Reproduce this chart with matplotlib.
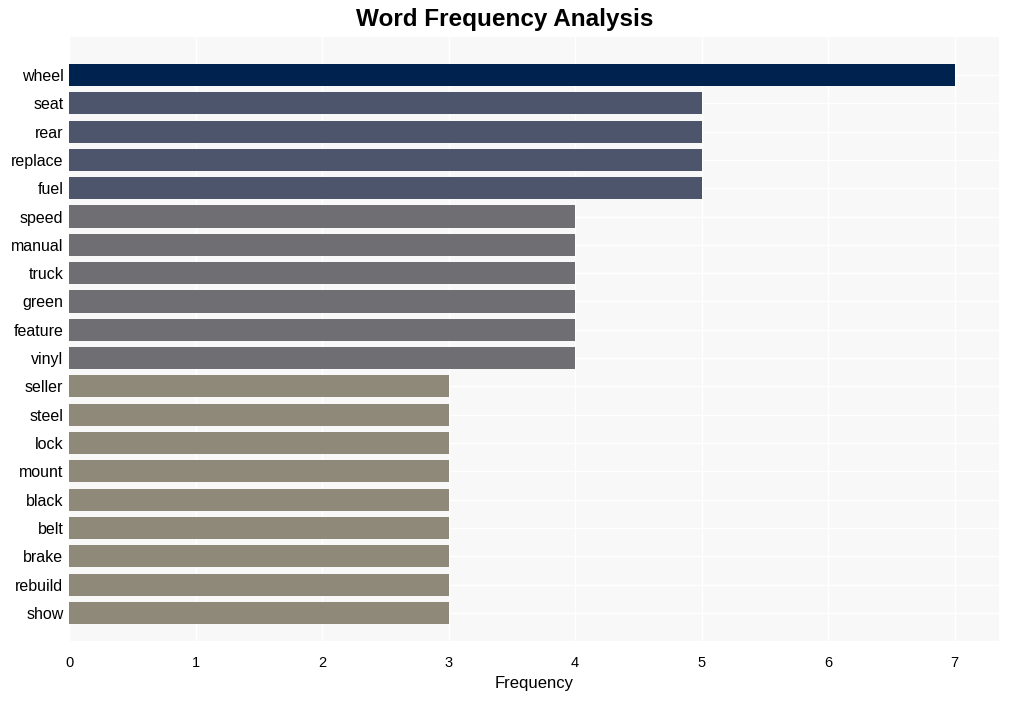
import matplotlib
matplotlib.use("Agg")
import matplotlib.pyplot as plt

plt.rcParams['font.family'] = ['Liberation Sans', 'DejaVu Sans']

words = ["wheel", "seat", "rear", "replace", "fuel", "speed", "manual", "truck",
         "green", "feature", "vinyl", "seller", "steel", "lock", "mount", "black",
         "belt", "brake", "rebuild", "show"]
counts = [7, 5, 5, 5, 5, 4, 4, 4, 4, 4, 4, 3, 3, 3, 3, 3, 3, 3, 3, 3]

color_by_count = {7: "#00224e", 5: "#4c556c", 4: "#6f6f73", 3: "#8e8978"}
colors = [color_by_count[c] for c in counts]

fig = plt.figure(figsize=(10.09, 7.01), dpi=100)
ax = fig.add_axes([69 / 1009, 1 - 641 / 701, 930 / 1009, 604 / 701])
ax.set_facecolor("#f8f8f8")

ypos = list(range(len(words)))
ax.barh(ypos, counts, height=0.78, color=colors, zorder=3)

ax.set_yticks(ypos)
ax.set_yticklabels(words, fontsize=11.5)
ax.set_ylim(19.99, -1.34)
ax.set_xlim(0, 7.35)
ax.set_xticks(range(8))
ax.tick_params(axis="x", labelsize=10.5, length=0, pad=11)
ax.tick_params(axis="y", length=0, pad=4)
ax.grid(True, color="white", linewidth=1, zorder=0)
for s in ax.spines.values():
    s.set_visible(False)

ax.set_xlabel("Frequency", fontsize=12, labelpad=4)
fig.suptitle("Word Frequency Analysis", fontsize=17.5, fontweight="bold", y=0.988)

fig.savefig("out.png", dpi=100)
